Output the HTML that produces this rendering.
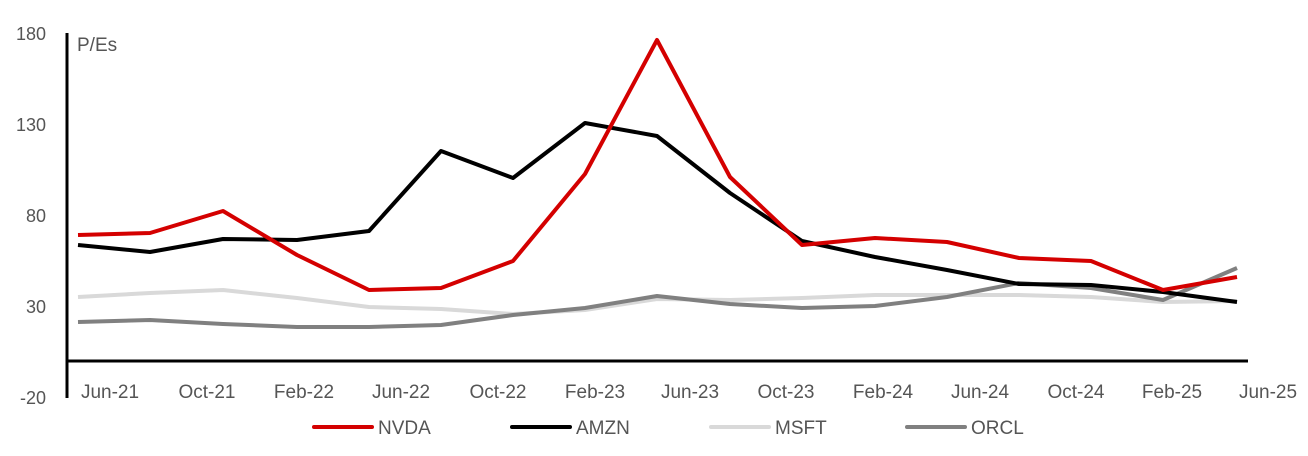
<!DOCTYPE html>
<html><head><meta charset="utf-8"><style>
html,body{margin:0;padding:0;background:#fff;}
svg{display:block;font-family:"Liberation Sans",sans-serif;}
text{fill:#555;font-size:18px;}
.lg{font-size:19px;}
</style></head><body>
<svg width="1308" height="456" viewBox="0 0 1308 456">
<g text-anchor="end">
<text x="46" y="40">180</text>
<text x="46" y="131">130</text>
<text x="46" y="222">80</text>
<text x="46" y="313">30</text>
<text x="46" y="404">-20</text>
</g>
<text x="77" y="51" style="font-size:19px">P/Es</text>
<line x1="67" y1="33" x2="67" y2="398" stroke="#000" stroke-width="3"/>
<line x1="67" y1="361" x2="1248" y2="361" stroke="#000" stroke-width="3"/>
<g text-anchor="middle" class="lg">
<text class="lg" x="110" y="398">Jun-21</text>
<text class="lg" x="207" y="398">Oct-21</text>
<text class="lg" x="304" y="398">Feb-22</text>
<text class="lg" x="401" y="398">Jun-22</text>
<text class="lg" x="498" y="398">Oct-22</text>
<text class="lg" x="595" y="398">Feb-23</text>
<text class="lg" x="690" y="398">Jun-23</text>
<text class="lg" x="786" y="398">Oct-23</text>
<text class="lg" x="883" y="398">Feb-24</text>
<text class="lg" x="980" y="398">Jun-24</text>
<text class="lg" x="1076" y="398">Oct-24</text>
<text class="lg" x="1172" y="398">Feb-25</text>
<text class="lg" x="1268" y="398">Jun-25</text>
</g>
<g fill="none" stroke-width="4" stroke-linejoin="round">
<polyline stroke="#d9d9d9" points="78,297 150,293 223,290 297,298 369,307 441,309 513,314 585,310 657,299 730,300 802,298 875,295 947,295 1019,295 1091,297 1163,302 1237,301"/>
<polyline stroke="#808080" points="78,322 150,320 223,324 297,327 369,327 441,325 513,315 585,308 657,296 730,304 802,308 875,306 947,297 1019,283 1091,288 1163,300 1237,268"/>
<polyline stroke="#000" points="78,245 150,252 223,239 297,240 369,231 441,151 513,178 585,123 657,136 730,193 802,241 875,257 947,270 1019,284 1091,285 1163,292 1237,302"/>
<polyline stroke="#d40000" points="78,235 150,233 223,211 297,255 369,290 441,288 513,261 585,174 657,40 730,177 802,245 875,238 947,242 1019,258 1091,261 1163,290 1237,277"/>
</g>
<g stroke-width="4" stroke-linecap="round">
<line x1="314" y1="427" x2="372" y2="427" stroke="#d40000"/>
<line x1="512" y1="427" x2="570" y2="427" stroke="#000"/>
<line x1="711" y1="427" x2="769" y2="427" stroke="#d9d9d9"/>
<line x1="907" y1="427" x2="965" y2="427" stroke="#808080"/>
</g>
<text class="lg" x="378" y="434">NVDA</text>
<text class="lg" x="576" y="434">AMZN</text>
<text class="lg" x="775" y="434">MSFT</text>
<text class="lg" x="971" y="434">ORCL</text>
</svg>
</body></html>
